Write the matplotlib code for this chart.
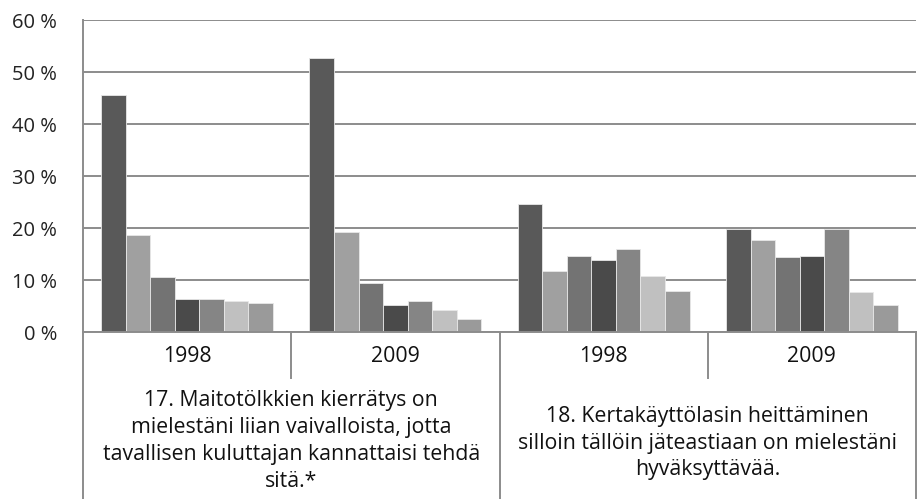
import matplotlib.pyplot as plt
import numpy as np
from matplotlib.lines import Line2D

# vastausjakaumat (%) kysymyksittäin ja vuosittain, 7 vastausvaihtoehtoa
years = ['1998', '2009', '1998', '2009']
questions = ['17. Maitotölkkien kierrätys on\nmielestäni liian vaivalloista, jotta\ntavallisen kuluttajan kannattaisi tehdä\nsitä.*',
             '18. Kertakäyttölasin heittäminen\nsilloin tällöin jäteastiaan on mielestäni\nhyväksyttävää.']
q17_1998 = [45.6, 18.7, 10.5, 6.4, 6.4, 6.0, 5.5]
q17_2009 = [52.6, 19.2, 9.4, 5.1, 5.9, 4.3, 2.5]
q18_1998 = [24.6, 11.7, 14.6, 13.9, 15.9, 10.8, 7.8]
q18_2009 = [19.8, 17.6, 14.4, 14.7, 19.8, 7.7, 5.1]
yticks = [0, 10, 20, 30, 40, 50, 60]

groups = [q17_1998, q17_2009, q18_1998, q18_2009]
colors = ['#595959', '#a0a0a0', '#737373', '#4a4a4a', '#858585', '#c0c0c0', '#9a9a9a']

plt.rcParams['font.family'] = ['Open Sans', 'DejaVu Sans']
FS = 15.3
W, H = 917, 499
fig = plt.figure(figsize=(W / 100, H / 100), dpi=100)
x0, x1, ytop, ybase = 83, 916, 20, 332
ax = fig.add_axes([x0 / W, 1 - ybase / H, (x1 - x0) / W, (ybase - ytop) / H])

n = len(colors)
span = 0.825
bw = span / n
for gi, vals in enumerate(groups):
    for si, v in enumerate(vals):
        ax.bar(gi - span / 2 + si * bw, v, width=bw, align='edge',
               color=colors[si], edgecolor='#e8e8e8', linewidth=0.6, zorder=3)

ax.set_xlim(-0.5, len(groups) - 0.5)
ax.set_ylim(0, 60)
ax.set_yticks(yticks)
ax.set_yticklabels([f'{t} %' for t in yticks], fontsize=14.5, color='#222222')
ax.tick_params(axis='y', length=0, pad=18.5)
ax.set_xticks([])
ax.yaxis.grid(True, color='#8c8c8c', linewidth=1.4, zorder=0)
for s in ['top', 'right', 'bottom']:
    ax.spines[s].set_visible(False)
ax.spines['left'].set_color('#8c8c8c')
ax.spines['left'].set_linewidth(1.4)

# kategoria-akselin taulukko
lc = '#8c8c8c'
def vline(x, ya, yb):
    fig.add_artist(Line2D([x / W, x / W], [1 - ya / H, 1 - yb / H], color=lc, lw=1.4))

fig.add_artist(Line2D([x0 / W, x1 / W], [1 - ybase / H] * 2, color=lc, lw=1.4))
vline(x0, ybase, H)
vline(x1, ybase, H)
vline((x0 + x1) / 2, ybase, H)
cw = (x1 - x0) / 4
vline(x0 + cw, ybase, 378)
vline(x0 + 3 * cw, ybase, 378)

for i, y in enumerate(years):
    fig.text((x0 + cw * (i + 0.5)) / W, 1 - 357 / H, y, ha='center', va='center',
             fontsize=FS, color='#111111')
fig.text((x0 + cw) / W, 1 - 441 / H, questions[0], ha='center', va='center',
         fontsize=FS, color='#111111', linespacing=1.36)
fig.text((x0 + 3 * cw) / W, 1 - 443 / H, questions[1], ha='center', va='center',
         fontsize=FS, color='#111111', linespacing=1.36)

fig.savefig('out.png', dpi=100)
